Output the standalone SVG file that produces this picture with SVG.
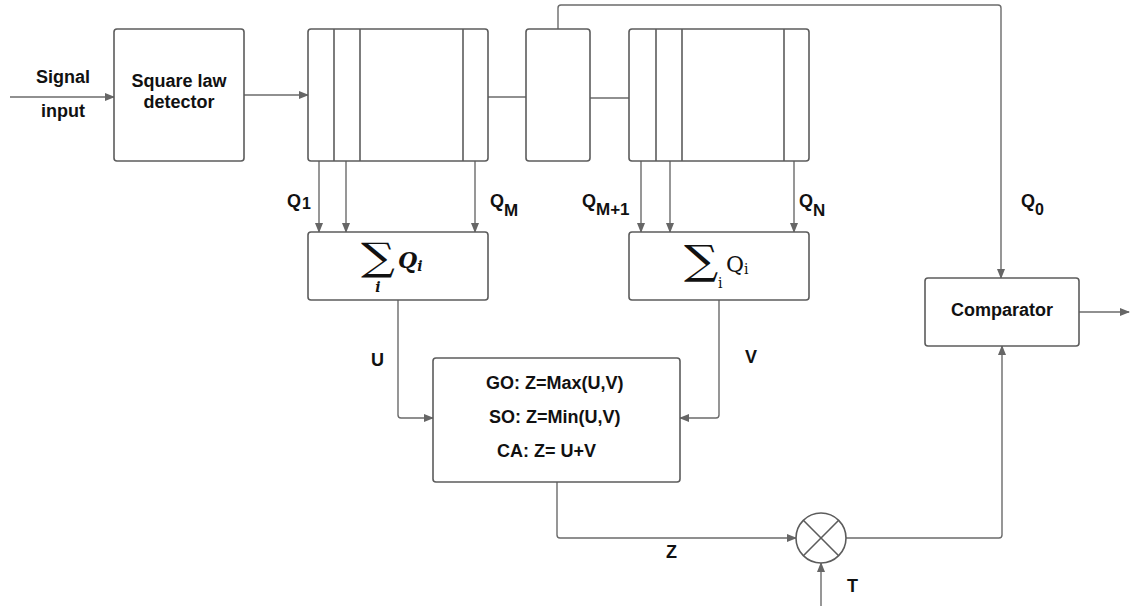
<svg xmlns="http://www.w3.org/2000/svg" width="1136" height="606" viewBox="0 0 1136 606">
<defs>
<marker id="ah" markerWidth="10" markerHeight="8" refX="9" refY="4" orient="auto" markerUnits="userSpaceOnUse">
<path d="M0,0 L10,4 L0,8 z" fill="#666"/>
</marker>
<style>
.box{fill:#fff;stroke:#5c5c5c;stroke-width:1.6}
.dv{stroke:#5c5c5c;stroke-width:1.6}
.con{fill:none;stroke:#6b6b6b;stroke-width:1.4}
.arr{marker-end:url(#ah)}
.t{font-family:"Liberation Sans",Arial,sans-serif;font-weight:bold;font-size:18px;fill:#111}
.m{font-family:"DejaVu Serif","Liberation Serif",serif;fill:#111}
</style>
</defs>
<rect width="1136" height="606" fill="#fff"/>

<g id="connectors">
<path class="con arr" d="M10,97 H114"/>
<path class="con arr" d="M244,95 H308"/>
<path class="con" d="M488,97 H526"/>
<path class="con" d="M590,98 H629"/>
<path class="con arr" d="M319,161 V232"/>
<path class="con arr" d="M346,161 V232"/>
<path class="con arr" d="M475,161 V232"/>
<path class="con arr" d="M641,161 V232"/>
<path class="con arr" d="M670,161 V232"/>
<path class="con arr" d="M794,161 V232"/>
<path class="con arr" d="M558,29 V8 Q558,5 561,5 H998 Q1001,5 1001,8 V278"/>
<path class="con arr" d="M398,300 V415 Q398,418 401,418 H433"/>
<path class="con arr" d="M719,300 V415 Q719,418 716,418 H680"/>
<path class="con arr" d="M557,482 V535 Q557,538 560,538 H796"/>
<path class="con arr" d="M821,606 V563"/>
<path class="con arr" d="M846,538 H999 Q1002,538 1002,535 V346"/>
<path class="con arr" d="M1079,312 H1129"/>
</g>

<g id="labels">
<text class="t" x="63" y="83" text-anchor="middle" font-size="18.5">Signal</text>
<text class="t" x="63" y="117" text-anchor="middle" font-size="18.5">input</text>
<text class="t" x="287" y="207">Q<tspan dx="1" dy="2" font-size="16">1</tspan></text>
<text class="t" x="490" y="207">Q<tspan dx="0" dy="9" font-size="17">M</tspan></text>
<text class="t" x="582" y="207">Q<tspan dx="0" dy="8" font-size="17">M+1</tspan></text>
<text class="t" x="799" y="207">Q<tspan dx="0" dy="9" font-size="17">N</tspan></text>
<text class="t" x="1021" y="207">Q<tspan dx="0" dy="8" font-size="16">0</tspan></text>
<text class="t" x="371" y="366">U</text>
<text class="t" x="745" y="363">V</text>
<text class="t" x="666" y="558">Z</text>
<text class="t" x="847" y="592">T</text>
</g>

<g id="detector">
<rect class="box" x="114" y="29" width="130" height="132" rx="3"/>
<text class="t" x="179" y="87" text-anchor="middle" font-size="19.5">Square law</text>
<text class="t" x="179" y="108" text-anchor="middle" font-size="19.5">detector</text>
</g>

<g id="register1">
<rect class="box" x="308" y="29" width="180" height="132" rx="3"/>
<line class="dv" x1="334" y1="29" x2="334" y2="161"/>
<line class="dv" x1="360" y1="29" x2="360" y2="161"/>
<line class="dv" x1="463" y1="29" x2="463" y2="161"/>
</g>

<g id="cell-under-test">
<rect class="box" x="526" y="29" width="64" height="132" rx="3"/>
</g>

<g id="register2">
<rect class="box" x="629" y="29" width="180" height="132" rx="3"/>
<line class="dv" x1="656" y1="29" x2="656" y2="161"/>
<line class="dv" x1="682" y1="29" x2="682" y2="161"/>
<line class="dv" x1="784" y1="29" x2="784" y2="161"/>
</g>

<g id="sum1">
<rect class="box" x="308" y="232" width="180" height="68" rx="3"/>
<text class="m" transform="translate(361,270) scale(1.25,1)" x="0" y="0" font-size="38">∑</text>
<text class="m" x="378" y="292" font-size="14" font-style="italic" font-weight="bold" text-anchor="middle">i</text>
<text class="m" x="398" y="268" font-size="22" font-style="italic" font-weight="bold">Q<tspan dy="3" font-size="14">i</tspan></text>
</g>

<g id="sum2">
<rect class="box" x="629" y="232" width="180" height="68" rx="3"/>
<text class="m" transform="translate(684,274) scale(1.2,1)" x="0" y="0" font-size="40">∑</text>
<text class="m" x="718" y="288" font-size="14">i</text>
<text class="m" x="726" y="272" font-size="22">Q<tspan dy="2" font-size="14">i</tspan></text>
</g>

<g id="combiner">
<rect class="box" x="433" y="358" width="247" height="124" rx="3"/>
<text class="t" x="486" y="389">GO: Z=Max(U,V)</text>
<text class="t" x="489" y="423">SO: Z=Min(U,V)</text>
<text class="t" x="497" y="457">CA: Z= U+V</text>
</g>

<g id="multiplier">
<circle cx="821" cy="538" r="25" fill="#fff" stroke="#5c5c5c" stroke-width="1.6"/>
<line class="dv" x1="803.3" y1="520.3" x2="838.7" y2="555.7"/>
<line class="dv" x1="838.7" y1="520.3" x2="803.3" y2="555.7"/>
</g>

<g id="comparator">
<rect class="box" x="925" y="278" width="154" height="68" rx="3"/>
<text class="t" x="1002" y="316" text-anchor="middle" font-size="19.5">Comparator</text>
</g>
</svg>
